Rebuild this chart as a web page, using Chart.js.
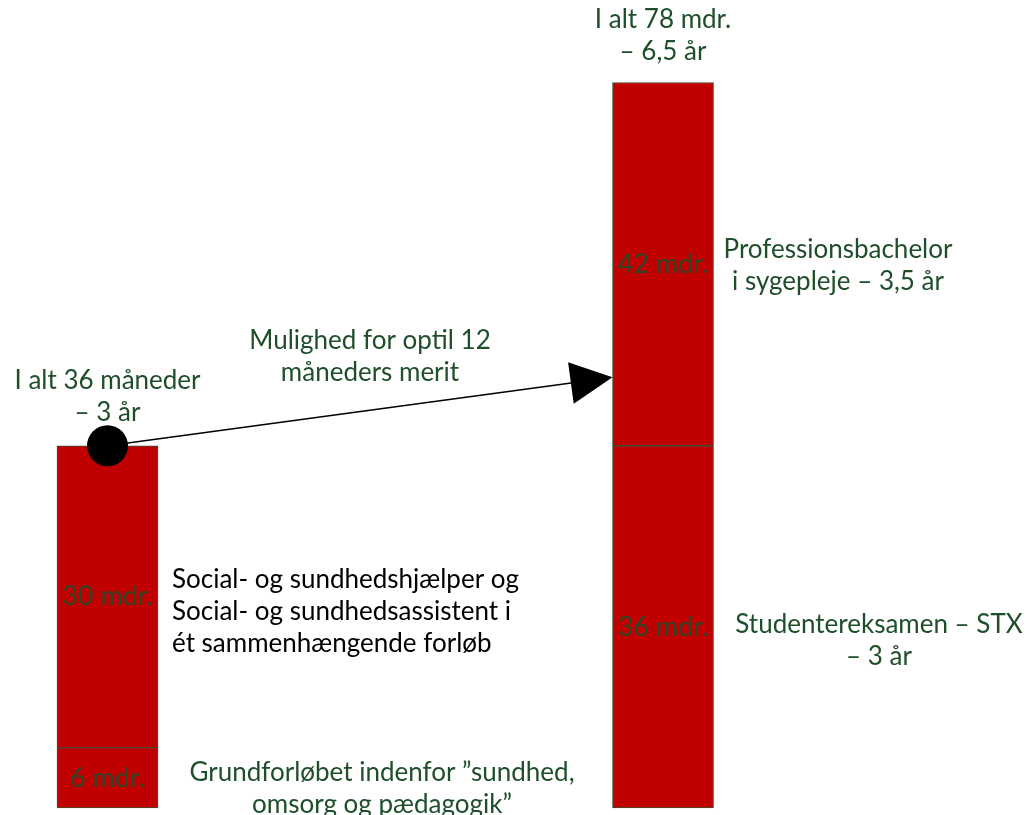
<!DOCTYPE html>
<html>
<head>
<meta charset="utf-8">
<script src="https://cdn.jsdelivr.net/npm/chart.js@4.4.1/dist/chart.umd.min.js"></script>
<style>
  html, body { margin: 0; padding: 0; background: #fff; }
  #wrap { width: 1028px; height: 815px; position: relative; }
</style>
</head>
<body>
<div id="wrap"><canvas id="myChart"></canvas></div>
<script>
// two educational paths, each a stack of two blocks (months, as drawn)
const categories = ["SOSU", "STX + Professionsbachelor"];
const bottomBlock = [6, 36];
const topBlock = [30, 36.1];
const bottomLabels = ["6 mdr.", "36 mdr."];
const topLabels = ["30 mdr.", "42 mdr."];
const totalLines = [["I alt 36 måneder", "– 3 år"], ["I alt 78 mdr.", "– 6,5 år"]];
const bottomNotes = [["Grundforløbet indenfor ”sundhed,", "omsorg og pædagogik”"], ["Studentereksamen – STX", "– 3 år"]];
const topNotes = [["Social- og sundhedshjælper og", "Social- og sundhedsassistent i", "ét sammenhængende forløb"], ["Professionsbachelor", "i sygepleje – 3,5 år"]];
const meritLines = ["Mulighed for optil 12", "måneders merit"];
const meritTarget = 42.8; // where the arrow hits the right bar

const green = "#1f4e2a";
const fontFam = "Lato, 'Open Sans', sans-serif";

// annotations: labels, notes, the merit arrow
const annotate = {
  id: "annotate",
  afterDatasetsDraw(chart) {
    const ctx = chart.ctx;
    const y = chart.scales.y;
    const lo = chart.getDatasetMeta(0).data;
    const hi = chart.getDatasetMeta(1).data;
    ctx.save();
    ctx.textBaseline = "middle";

    // block labels
    ctx.font = "27px " + fontFam;
    ctx.fillStyle = "#2e4528";
    ctx.textAlign = "center";
    lo.forEach((b, i) => ctx.fillText(bottomLabels[i], b.x, (b.y + b.base) / 2));
    hi.forEach((b, i) => ctx.fillText(topLabels[i], b.x, (b.y + b.base) / 2));

    const lh = 32;
    const lines = (arr, cx, cy, align, col) => {
      ctx.textAlign = align;
      ctx.fillStyle = col;
      arr.forEach((t, k) => ctx.fillText(t, cx, cy + k * lh));
    };
    ctx.font = "26px " + fontFam;

    // totals above bars
    lines(totalLines[0], hi[0].x, hi[0].y - 65, "center", green);
    lines(totalLines[1], hi[1].x, hi[1].y - 63, "center", green);

    // notes right of the bars
    lines(bottomNotes[0], 382, 773, "center", green);
    lines(topNotes[0], 172, 580, "left", "#000");
    lines(bottomNotes[1], 879, 625, "center", green);
    lines(topNotes[1], 838, 250, "center", green);
    lines(meritLines, 370, 341, "center", green);

    // merit arrow
    const sx = hi[0].x, sy = hi[0].y;
    const tx = hi[1].x - hi[1].width / 2, ty = y.getPixelForValue(meritTarget);
    const ang = Math.atan2(ty - sy, tx - sx);
    ctx.strokeStyle = "#000";
    ctx.lineWidth = 1.5;
    ctx.beginPath();
    ctx.moveTo(sx, sy);
    ctx.lineTo(tx - 38 * Math.cos(ang), ty - 38 * Math.sin(ang));
    ctx.stroke();
    ctx.fillStyle = "#000";
    ctx.beginPath();
    ctx.moveTo(tx, ty);
    ctx.lineTo(tx - 42 * Math.cos(ang) + 21 * Math.sin(ang), ty - 42 * Math.sin(ang) - 21 * Math.cos(ang));
    ctx.lineTo(tx - 42 * Math.cos(ang) - 21 * Math.sin(ang), ty - 42 * Math.sin(ang) + 21 * Math.cos(ang));
    ctx.closePath();
    ctx.fill();
    ctx.beginPath();
    ctx.arc(sx, sy, 20.5, 0, Math.PI * 2);
    ctx.fill();
    ctx.restore();
  }
};

const myChart = new Chart("myChart", {
  type: "bar",
  data: {
    datasets: [
      {
        label: "nederste blok",
        data: bottomBlock.map((v, i) => ({ x: i, y: v })),
        backgroundColor: "#c00000",
        borderColor: "#3d4f36",
        borderWidth: 1,
        borderSkipped: false,
        barThickness: 101,
        clip: false
      },
      {
        label: "øverste blok",
        data: topBlock.map((v, i) => ({ x: i, y: v })),
        backgroundColor: "#c00000",
        borderColor: "#3d4f36",
        borderWidth: 1,
        borderSkipped: false,
        barThickness: 101,
        clip: false
      }
    ]
  },
  options: {
    responsive: true,
    maintainAspectRatio: false,
    animation: false,
    layout: { padding: { left: 0, right: 0, top: 0, bottom: 7 } },
    plugins: { legend: { display: false }, tooltip: { enabled: false } },
    scales: {
      x: {
        type: "linear",
        stacked: true,
        min: -0.1935,
        max: 1.657,
        display: false,
        offset: false
      },
      y: {
        stacked: true,
        min: 0,
        max: 80.3,
        display: false
      }
    }
  },
  plugins: [annotate]
});
</script>
</body>
</html>
